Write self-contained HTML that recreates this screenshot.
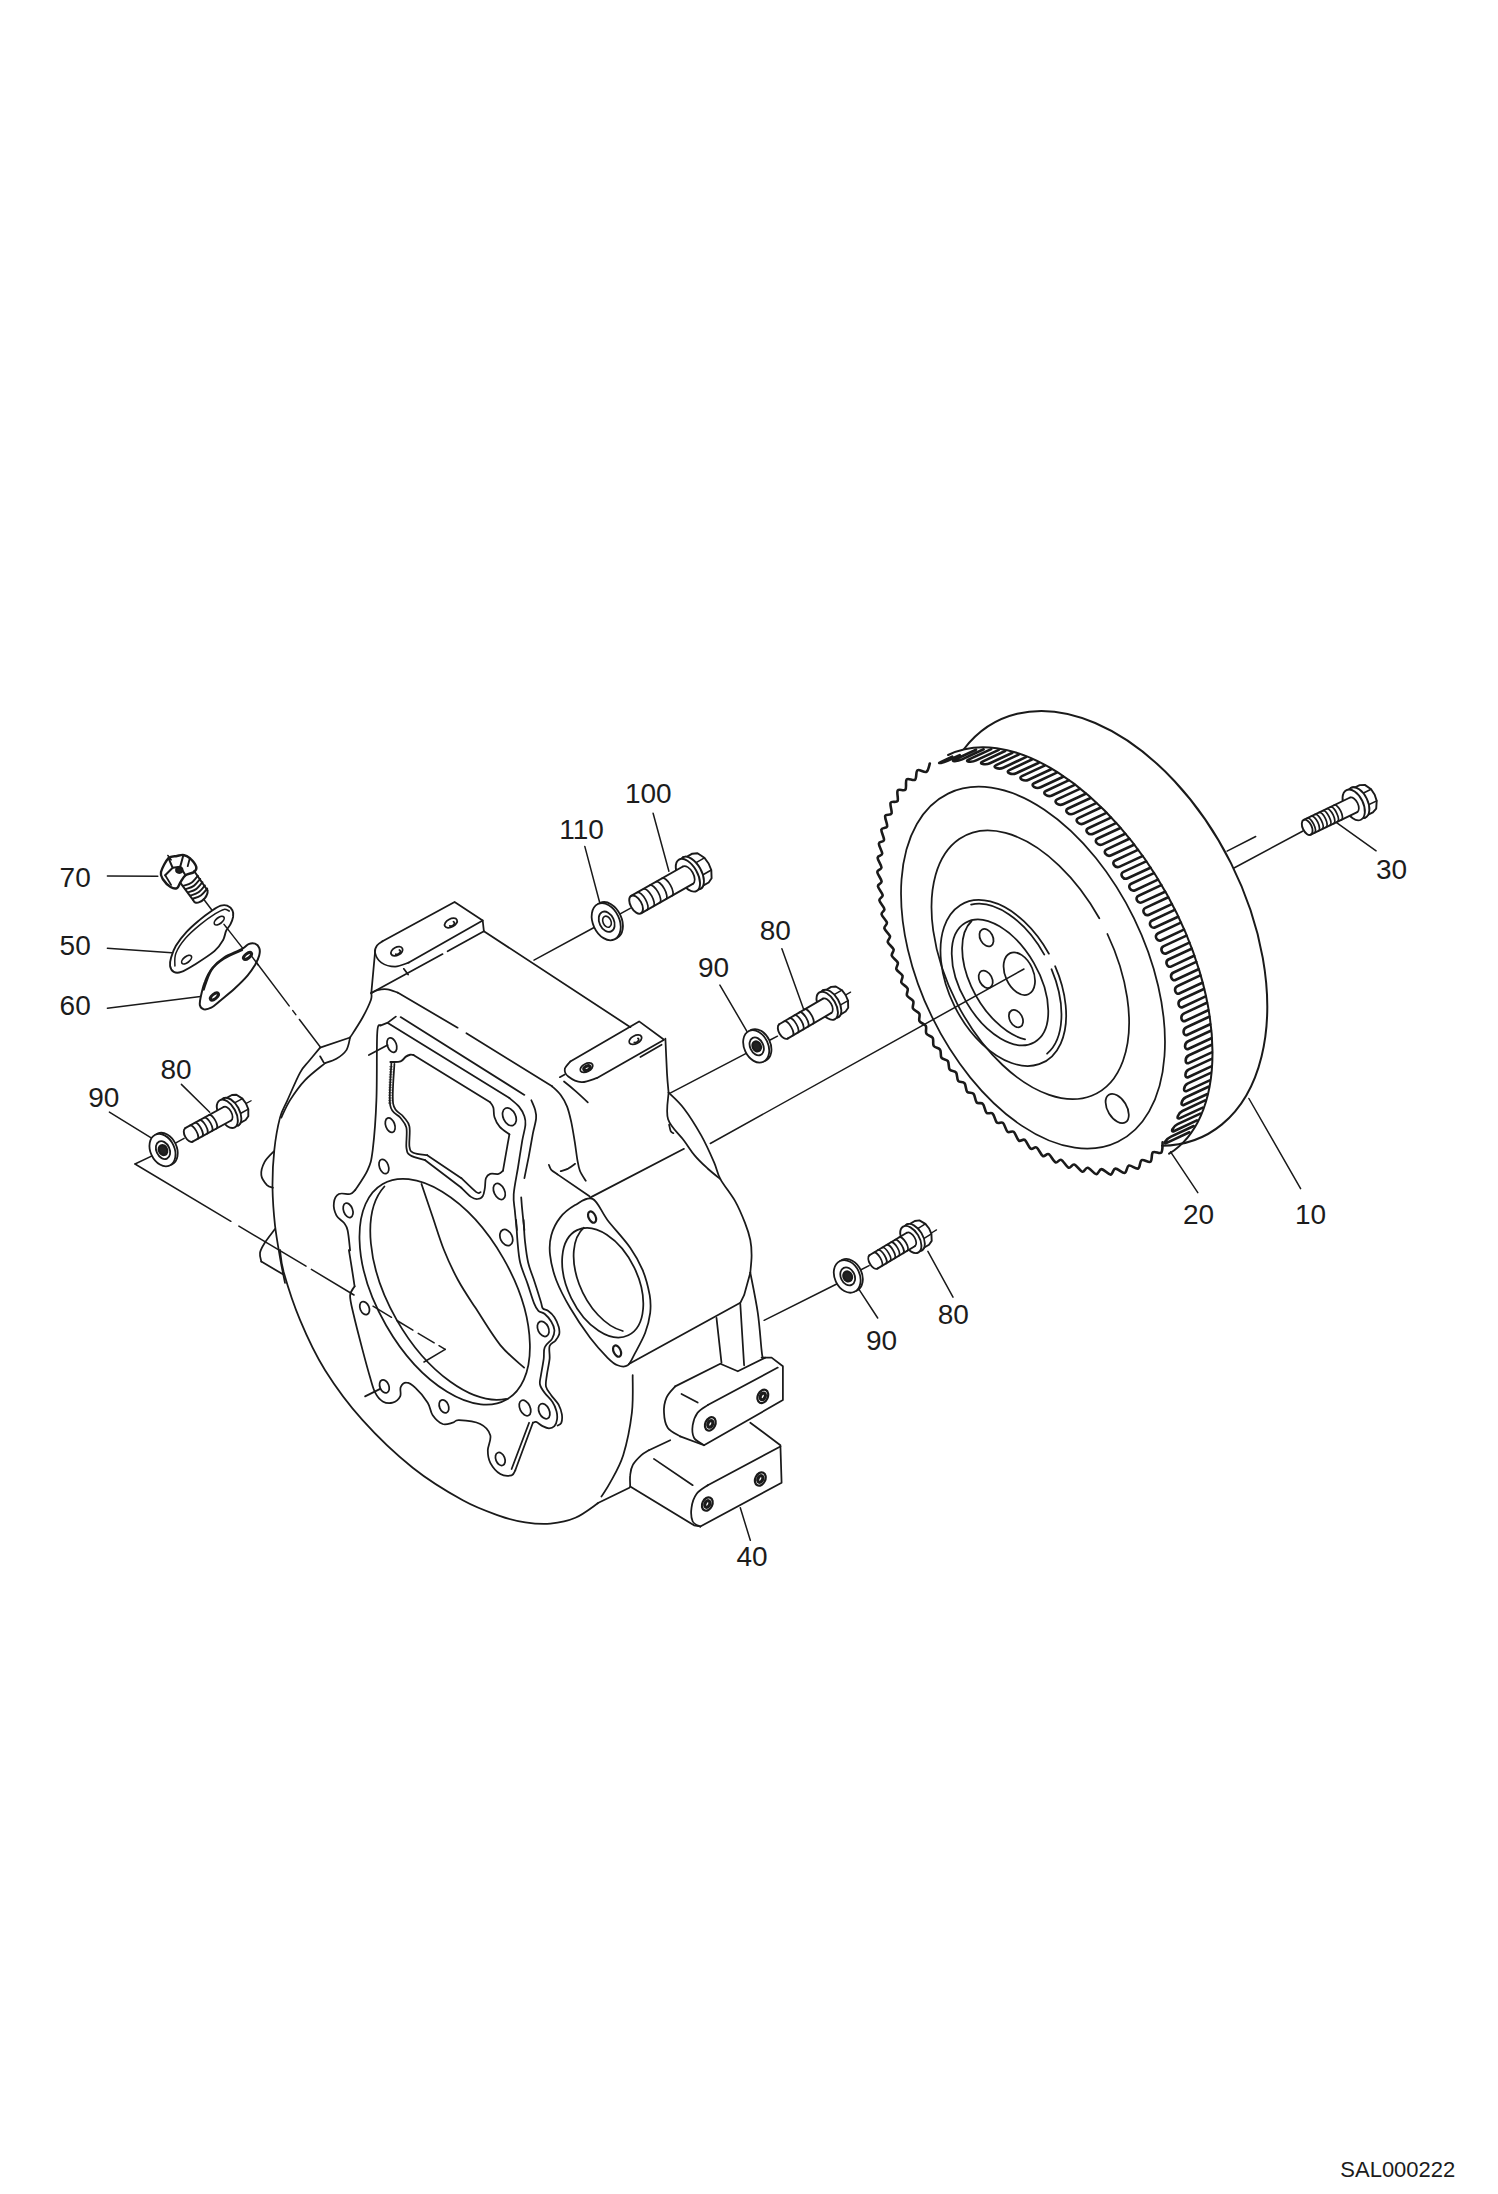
<!DOCTYPE html>
<html><head><meta charset="utf-8"><title>SAL000222</title>
<style>
html,body{margin:0;padding:0;background:#fff}
svg{display:block}
.d path,.d ellipse{fill:none;stroke:#1a1a1a;stroke-width:1.75;stroke-linecap:round;stroke-linejoin:round}
text{font-family:"Liberation Sans",Arial,sans-serif;fill:#1c1c1c}
</style></head><body>
<svg width="1498" height="2194" viewBox="0 0 1498 2194">
<rect width="1498" height="2194" fill="#fff"/>
<g class="d">
<path d="M964 749 A231.8 145.4 63.5 1 1 1161.9 1145.7" style="stroke-width:2.0"/>
<path d="M1162.6 1142.4 C1162.4 1144.1 1162.9 1150.9 1161.3 1152.6 C1159.7 1154.2 1154.7 1150.8 1152.9 1152.3 C1151.1 1153.9 1152.4 1160.4 1150.5 1161.7 C1148.6 1163 1143.7 1159 1141.6 1160.2 C1139.6 1161.3 1140.3 1167.6 1138.2 1168.5 C1136 1169.5 1131.2 1164.9 1128.9 1165.6 C1126.6 1166.4 1126.9 1172.4 1124.6 1172.9 C1122.4 1173.3 1117.7 1168.3 1115.3 1168.6 C1113 1168.9 1112.8 1174.5 1110.5 1174.6 C1108.2 1174.7 1103.9 1169.2 1101.5 1169.1 C1099.1 1169.1 1098.6 1174.4 1096.3 1174.1 C1094 1173.9 1090 1168.1 1087.7 1167.7 C1085.4 1167.3 1084.6 1172.2 1082.3 1171.7 C1080.1 1171.2 1076.6 1165.1 1074.3 1164.5 C1072 1163.8 1070.9 1168.4 1068.7 1167.7 C1066.5 1166.9 1063.4 1160.8 1061.2 1159.9 C1059 1159 1057.6 1163.3 1055.5 1162.3 C1053.4 1161.4 1050.8 1155.2 1048.7 1154.2 C1046.5 1153.1 1044.9 1157.1 1042.8 1156 C1040.8 1154.8 1038.6 1148.7 1036.6 1147.5 C1034.5 1146.3 1032.6 1149.9 1030.6 1148.6 C1028.7 1147.4 1026.8 1141.3 1024.8 1139.9 C1022.9 1138.6 1020.7 1141.9 1018.9 1140.6 C1017 1139.2 1015.6 1133.2 1013.7 1131.8 C1011.8 1130.3 1009.4 1133.3 1007.6 1131.8 C1005.8 1130.3 1004.8 1124.5 1003 1122.9 C1001.2 1121.4 998.6 1124.1 996.8 1122.5 C995.1 1121 994.5 1115.3 992.7 1113.7 C991 1112 988.2 1114.3 986.5 1112.7 C984.9 1111.1 984.5 1105.5 982.8 1103.8 C981.2 1102.1 978.2 1104.1 976.7 1102.5 C975.1 1100.8 975.1 1095.5 973.6 1093.8 C972 1092 968.7 1093.6 967.2 1091.8 C965.7 1090.1 966 1085 964.5 1083.2 C963 1081.3 959.7 1082.6 958.2 1080.8 C956.8 1079 957.4 1074.2 956 1072.4 C954.6 1070.5 951 1071.4 949.7 1069.5 C948.3 1067.6 949.2 1063.1 947.8 1061.1 C946.5 1059.2 942.8 1059.8 941.5 1057.8 C940.2 1055.9 941.4 1051.6 940.1 1049.7 C938.8 1047.7 934.9 1047.9 933.7 1045.9 C932.5 1043.9 933.9 1039.9 932.7 1037.9 C931.5 1035.8 927.5 1035.6 926.4 1033.6 C925.2 1031.6 926.9 1027.9 925.8 1025.8 C924.6 1023.7 920.5 1023.2 919.5 1021.2 C918.4 1019.2 920.4 1015.8 919.3 1013.6 C918.2 1011.5 914 1010.6 913 1008.5 C912 1006.4 914.2 1003.3 913.2 1001.1 C912.2 999 907.9 997.7 907 995.6 C906.1 993.5 908.5 990.7 907.6 988.5 C906.7 986.3 902.3 984.6 901.4 982.5 C900.6 980.3 903.3 977.8 902.4 975.6 C901.6 973.4 897.2 971.4 896.4 969.2 C895.6 967.1 898.5 964.9 897.8 962.7 C897 960.4 892.5 958 891.8 955.7 C891.1 953.5 894.2 951.6 893.6 949.4 C892.9 947.1 888.4 944.3 887.8 942.1 C887.2 939.9 890.5 938.5 890 936.2 C889.4 933.9 884.9 930.6 884.4 928.4 C883.9 926.1 887.3 924.9 886.9 922.6 C886.4 920.2 882 916.7 881.6 914.4 C881.1 912.1 884.8 911.3 884.4 909 C884.1 906.7 879.7 902.6 879.4 900.3 C879.1 898 882.9 897.6 882.7 895.2 C882.4 892.8 878.1 888.5 877.9 886.2 C877.8 883.9 881.7 883.8 881.6 881.4 C881.5 879.1 877.3 874.2 877.3 871.9 C877.3 869.6 881.4 869.9 881.5 867.5 C881.5 865.1 877.5 860 877.6 857.7 C877.7 855.4 882 856.1 882.2 853.7 C882.4 851.4 878.6 845.8 878.9 843.6 C879.2 841.3 883.6 842.4 884 840.1 C884.4 837.7 880.9 831.8 881.4 829.6 C881.9 827.3 886.4 828.8 887.1 826.5 C887.7 824.2 884.5 818.1 885.2 815.9 C885.9 813.7 890.6 815.7 891.5 813.5 C892.4 811.3 889.6 804.8 890.6 802.7 C891.6 800.7 896.4 803 897.6 801 C898.7 798.9 896.4 792.3 897.7 790.4 C899 788.5 903.9 791.4 905.4 789.6 C906.9 787.8 905.1 781.1 906.7 779.4 C908.3 777.8 913.3 781.2 915.1 779.7 C916.9 778.1 915.6 771.6 917.5 770.3 C919.4 769 924.3 773 926.4 771.8 C928.4 770.7 929.3 764.9 929.8 763.5" style="stroke-width:2.6"/>
<path d="M948.1 755 A228 127 61 0 1 1169.1 1153.7" style="stroke-width:2.0"/>
<path d="M952.2 756.7L940.6 762.1C936.1 764.2 943.5 762.6 948 760.5L959.7 755.1 M976 749.7L954.5 759.7C949.9 761.8 957.5 761.5 962.1 759.4L983.6 749.3 M991.2 749.1L968.5 759.6C964 761.7 971.6 762.6 976.1 760.4L998.8 749.9 M1005.1 751L982.5 761.6C978 763.7 985.3 765.4 989.9 763.3L1012.5 752.7 M1018.7 754.6L996.1 765.1C991.5 767.3 998.7 769.8 1003.3 767.7L1025.9 757.1 M1031.9 759.5L1009.3 770.1C1004.8 772.2 1011.6 775.3 1016.2 773.2L1038.8 762.7 M1044.6 765.6L1021.9 776.1C1017.4 778.3 1024 781.9 1028.6 779.8L1051.2 769.3 M1056.8 772.6L1034.1 783.2C1029.6 785.3 1036 789.4 1040.6 787.3L1063.2 776.7 M1068.6 780.4L1045.9 791C1041.4 793.1 1047.5 797.6 1052 795.5L1074.7 784.9 M1079.8 788.9L1057.2 799.4C1052.6 801.6 1058.5 806.4 1063.1 804.3L1085.7 793.7 M1090.6 798L1068 808.5C1063.4 810.7 1069 815.7 1073.6 813.6L1096.2 803.1 M1100.9 807.5L1078.3 818.1C1073.8 820.2 1079.2 825.6 1083.7 823.5L1106.4 812.9 M1110.9 817.6L1088.2 828.2C1083.7 830.3 1088.8 835.8 1093.3 833.7L1116 823.1 M1120.3 828L1097.6 838.5C1093.1 840.6 1098 846.5 1102.6 844.3L1125.2 833.8 M1129.3 838.8L1106.7 849.4C1102.1 851.5 1106.8 857.4 1111.3 855.3L1134 844.7 M1137.9 849.9L1115.2 860.5C1110.7 862.6 1115.2 868.7 1119.7 866.6L1142.4 856.1 M1146.1 861.4L1123.5 871.9C1118.9 874.1 1123.2 880.3 1127.7 878.2L1150.4 867.7 M1153.9 873.1L1131.2 883.7C1126.7 885.8 1130.8 892.3 1135.3 890.2L1157.9 879.6 M1161.3 885.1L1138.6 895.7C1134.1 897.8 1137.9 904.4 1142.4 902.2L1165.1 891.7 M1168.2 897.3L1145.5 907.9C1141 910 1144.6 916.8 1149.1 914.7L1171.8 904.1 M1174.7 909.9L1152.1 920.5C1147.6 922.6 1150.9 929.4 1155.4 927.3L1178.1 916.8 M1180.8 922.6L1158.2 933.2C1153.6 935.3 1156.7 942.3 1161.3 940.2L1183.9 929.6 M1186.4 935.6L1163.8 946.1C1159.3 948.2 1162.1 955.3 1166.6 953.2L1189.3 942.6 M1191.6 948.7L1168.9 959.3C1164.4 961.4 1167 968.5 1171.5 966.4L1194.1 955.8 M1196.2 961.9L1173.6 972.5C1169 974.6 1171.3 981.9 1175.9 979.8L1198.5 969.2 M1200.3 975.4L1177.7 986C1173.2 988.1 1175.1 995.4 1179.7 993.3L1202.3 982.7 M1203.9 989L1181.2 999.5C1176.7 1001.6 1178.4 1009.1 1182.9 1007L1205.6 996.4 M1206.9 1002.8L1184.2 1013.4C1179.7 1015.5 1181 1022.9 1185.6 1020.8L1208.2 1010.2 M1209.2 1016.7L1186.6 1027.2C1182 1029.3 1183 1036.9 1187.5 1034.8L1210.2 1024.2 M1210.8 1030.7L1188.2 1041.2C1183.7 1043.4 1184.2 1050.9 1188.7 1048.8L1211.4 1038.2 M1211.7 1044.7L1189 1055.3C1184.5 1057.4 1184.6 1065 1189.1 1062.9L1211.8 1052.4 M1211.7 1058.9L1189 1069.4C1184.5 1071.5 1184.1 1079.1 1188.6 1077L1211.3 1066.4 M1210.7 1072.9L1188 1083.4C1183.5 1085.5 1182.5 1093 1187 1090.9L1209.7 1080.4 M1208.5 1086.7L1185.9 1097.3C1181.4 1099.4 1179.7 1106.8 1184.2 1104.7L1206.9 1094.2 M1205.1 1100.4L1182.5 1111C1177.9 1113.1 1175.5 1120.3 1180 1118.1L1202.7 1107.6 M1200.3 1113.6L1177.6 1124.1C1173.1 1126.3 1169.7 1133.1 1174.3 1131L1196.9 1120.4 M1193.7 1126L1171 1136.6C1166.5 1138.7 1162.2 1145 1166.7 1142.9L1189.4 1132.3" style="stroke-width:2.6"/>
<ellipse cx="1033" cy="967.7" rx="193.7" ry="112.4" transform="rotate(64 1033 967.7)"/>
<path d="M1107.4 934 A144.7 82.8 63 1 1 1099.3 918.3"/>
<path d="M1055.1 966.2 A89 54 63 1 1 1048.9 953.7"/>
<path d="M971.1 904.6 A84.5 49.5 63 0 1 1044.3 954.6"/>
<path d="M1051.5 969.2 A84.5 49.5 63 0 1 1047.1 1053.7"/>
<ellipse cx="1000" cy="982.4" rx="69" ry="39" transform="rotate(60 1000 982.4)"/>
<path d="M1025.1 1039.4 A69 39 60 0 1 971.6 921"/>
<ellipse cx="1019.3" cy="973.7" rx="22.5" ry="14" transform="rotate(66 1019.3 973.7)"/>
<ellipse cx="986.5" cy="937.7" rx="9.3" ry="6.3" transform="rotate(62 986.5 937.7)"/>
<ellipse cx="985.7" cy="979.3" rx="9.3" ry="6.3" transform="rotate(62 985.7 979.3)"/>
<ellipse cx="1016" cy="1018.6" rx="9.3" ry="6.3" transform="rotate(62 1016 1018.6)"/>
<ellipse cx="1117.2" cy="1108.5" rx="16" ry="9.5" transform="rotate(58.6 1117.2 1108.5)"/>
<path d="M482.7 920.5 L408.8 962.6"/>
<path d="M408.8 962.6 C406.5 963.3 399.6 966.6 395.1 966.6 C390.5 966.6 384.6 964.9 381.3 962.6 C378 960.3 375.7 955.4 375 952.6 C374.3 949.7 375.8 947.4 377 945.6 C378.3 943.7 381.6 942 382.5 941.3"/>
<path d="M382.5 941.3 L454.6 902 L482.7 920.5 L483.9 931.3"/>
<path d="M483.9 931.3 L447.6 951.3"/>
<path d="M442.6 954.1 L371.3 993.1"/>
<path d="M403.8 968.8 L408.1 974.6"/>
<path d="M375 952.6 L371.3 993.1"/>
<ellipse cx="396.8" cy="951.3" rx="6.3" ry="4" transform="rotate(-28 396.8 951.3)"/>
<ellipse cx="450.9" cy="923" rx="6.8" ry="4" transform="rotate(-28 450.9 923)"/>
<path d="M399.4 950 A3 2 -28 0 1 395.7 954.2"/>
<path d="M453.5 921.7 A3 2 -28 0 1 449.8 925.9"/>
<path d="M483.9 931.3 L630.4 1027.2"/>
<path d="M570.3 1061.5 L639.1 1021.4 L664.1 1039.7 L596.6 1078.2"/>
<path d="M596.6 1078.2 C594.1 1078.9 586.3 1082.5 581.5 1082.2 C576.8 1081.9 571.1 1078.7 568.3 1076.5 C565.5 1074.3 564.4 1071.5 564.8 1069 C565.1 1066.5 569.4 1062.7 570.3 1061.5"/>
<path d="M665.4 1038.7 C665.7 1044.5 666.5 1064.4 667 1073.4 C667.5 1082.4 668.3 1089.4 668.6 1092.6"/>
<path d="M661.6 1044.7 L640.4 1057"/>
<ellipse cx="586.5" cy="1067.7" rx="6.8" ry="4" transform="rotate(-28 586.5 1067.7)"/>
<ellipse cx="635.4" cy="1039.7" rx="6.8" ry="4" transform="rotate(-28 635.4 1039.7)"/>
<ellipse cx="587" cy="1068.2" rx="3.5" ry="2" transform="rotate(-28 587 1068.2)" style="stroke-width:3"/>
<path d="M637.9 1038.3 A3 2 -28 0 1 634.3 1042.5"/>
<path d="M559.8 1077.2 L564.8 1074.5"/>
<path d="M564 1081.5 C565.9 1083 571.3 1087.3 575.3 1090.8 C579.2 1094.2 585.7 1100.3 587.8 1102.3"/>
<path d="M371.3 993.1 C372.3 992.6 374.8 990.8 377.5 990.1 C380.2 989.5 384.2 989 387.5 989.4 C390.9 989.8 395.9 992.1 397.6 992.6"/>
<path d="M397.6 992.6 L457.6 1027.7"/>
<path d="M466.4 1033.2 L552.1 1086.3"/>
<path d="M552.1 1086.3 C553.6 1087.7 558.2 1091.5 560.7 1094.9 C563.2 1098.2 565.3 1102 567.1 1106.6 C568.9 1111.2 570.1 1116.9 571.4 1122.6 C572.6 1128.3 573.6 1134.7 574.6 1140.8 C575.6 1146.8 576.4 1154 577.2 1158.9 C578.1 1163.9 578.5 1167 579.9 1170.7 C581.3 1174.3 584.8 1179.1 585.8 1180.8"/>
<path d="M371.3 993.1 C371.2 994.2 372.3 995.9 370.9 1000 C369.4 1004.1 366.1 1011.2 362.6 1017.5 C359.1 1023.8 352.2 1034.2 350.1 1037.5"/>
<path d="M350.1 1037.5 L320.1 1047.6"/>
<path d="M350.1 1037.5 C349.5 1039.6 348.7 1046.5 346.4 1050.1 C344.1 1053.6 339.9 1056.7 336.4 1058.8 C332.8 1061 327 1062.4 325.1 1063.1"/>
<path d="M320.1 1056.3 L323.8 1062.6"/>
<path d="M320.1 1047.6 C318.2 1049.9 312.2 1057.2 308.8 1061.3 C305.5 1065.5 303.6 1066.1 300.1 1072.6 C296.5 1079.1 290.9 1092.6 287.5 1100.1 C284.2 1107.6 282.2 1109.3 280 1117.6 C277.8 1126 275.5 1138.5 274.3 1150.2 C273 1161.9 272.4 1175.2 272.5 1187.7 C272.7 1200.3 273.7 1213.2 275 1225.3 C276.4 1237.4 278.9 1250.7 280.5 1260.3 C282.2 1269.9 284.3 1279.1 285 1282.9"/>
<path d="M325.1 1063.1 C321.8 1065.9 310.9 1073.9 305.1 1080.1 C299.2 1086.3 294 1093.9 290.1 1100.1 C286.1 1106.4 282.7 1114.7 281.3 1117.6"/>
<path d="M273.8 1151.4 C272.2 1153.2 266.6 1158.2 264.5 1162.2 C262.4 1166.2 260.8 1171.4 261.3 1175.2 C261.7 1179.1 265.1 1183.1 267 1185.2 C269 1187.3 272 1187.3 273 1187.7"/>
<path d="M275 1229 C273.3 1231.4 267 1239.3 264.5 1243.3 C262 1247.3 260.6 1249.8 260 1252.8 C259.5 1255.9 261.1 1260.1 261.3 1261.6"/>
<path d="M261.3 1261.6 L283.8 1274.8"/>
<path d="M280 1250 C280.7 1253.8 280.5 1260.8 283.8 1272.5 C287.1 1284.2 293.2 1303.8 300.1 1320.1 C306.9 1336.4 314.7 1353.5 325.1 1370.2 C335.5 1386.8 348 1403.9 362.6 1420.2 C377.2 1436.5 396 1454.4 412.7 1467.8 C429.4 1481.1 448.2 1492.3 462.8 1500.3 C477.4 1508.4 489.9 1512.4 500.3 1516.1 C510.7 1519.8 517 1521.1 525.3 1522.3 C533.7 1523.6 542 1524.3 550.4 1523.6 C558.7 1522.8 567.5 1521.2 575.4 1517.8 C583.3 1514.5 594.2 1505.7 597.9 1503.3"/>
<path d="M597.5 1503.3 L629.4 1487.7"/>
<path d="M632.7 1375.1 C632.5 1381.4 633.5 1399.3 631.9 1412.6 C630.3 1426 626.8 1443.5 623.2 1455.2 C619.5 1466.9 613.8 1475.8 610.1 1482.7 C606.5 1489.6 602.8 1494.2 601.4 1496.5"/>
<path d="M380.2 1025 C379.7 1026.5 377.8 1021.3 377.2 1033.8 C376.5 1046.3 377.2 1080.7 376.4 1100.1 C375.7 1119.5 374.1 1138.5 372.7 1150.2 C371.2 1161.9 370.6 1163.5 367.6 1170.2 C364.7 1176.9 357.2 1186.9 355.1 1190.2"/>
<path d="M355.1 1190.2 C354.3 1190.9 352.8 1193.4 350.1 1194 C347.4 1194.6 341.6 1192.5 338.9 1194 C336.1 1195.5 334.3 1199.2 333.9 1202.8 C333.4 1206.3 334.7 1211.9 336.4 1215.3 C338 1218.6 342 1220.3 343.9 1222.8 C345.7 1225.3 346.6 1225.7 347.6 1230.3 C348.7 1234.9 349.7 1247 350.1 1250.3"/>
<path d="M348.9 1250 C349.4 1253.3 351.2 1264 352.1 1270 C353.1 1276.1 354.2 1283.6 354.6 1286.3"/>
<path d="M354.6 1286.3 C353.9 1287.8 350.3 1291 350.1 1295.6 C349.9 1300.1 351.3 1304.7 353.4 1313.8 C355.5 1322.9 359.8 1339.5 362.6 1350.1 C365.4 1360.8 368.1 1370.6 370.2 1377.7 C372.2 1384.8 373.1 1388.7 375.2 1392.7 C377.2 1396.6 379.7 1399.8 382.7 1401.4 C385.6 1403.1 389.8 1403.5 392.7 1402.7 C395.6 1401.9 398.9 1399 400.2 1396.4 C401.5 1393.8 399.6 1389.5 400.7 1387.2 C401.7 1384.9 404 1382.6 406.4 1382.7 C408.9 1382.7 411.7 1384.3 415.2 1387.7 C418.8 1391 424.8 1398.1 427.7 1402.7 C430.6 1407.3 430.2 1411.7 432.7 1415.2 C435.2 1418.8 439.4 1422.7 442.7 1424 C446.1 1425.2 450 1423.3 452.8 1422.7 C455.5 1422.1 454.4 1420 459 1420.2 C463.6 1420.4 475.1 1421.5 480.3 1424 C485.5 1426.5 489 1430.9 490.3 1435.2 C491.6 1439.6 487.8 1445.7 487.8 1450.3 C487.8 1454.8 488.2 1458.8 490.3 1462.8 C492.4 1466.7 496.8 1471.9 500.3 1474 C503.9 1476.1 509.1 1475.9 511.6 1475.3 C514.1 1474.7 514.7 1471.1 515.3 1470.3"/>
<path d="M515.3 1470.3 L532.9 1422.7"/>
<path d="M511.6 1469 L529.1 1422.7"/>
<path d="M516.1 1220 C516.4 1223.6 516.9 1234.2 517.5 1241.4 C518.2 1248.5 518.5 1255.6 520.2 1262.7 C521.9 1269.8 525.4 1277.3 527.7 1284.1 C530 1290.9 532.3 1298.9 534.1 1303.3 C535.9 1307.8 536.6 1309 538.4 1310.8 C540.1 1312.6 542.6 1312.2 544.8 1314 C546.9 1315.8 549.6 1318.8 551.2 1321.5 C552.8 1324.1 554.2 1327.2 554.4 1330 C554.6 1332.9 553.8 1335.7 552.2 1338.6 C550.6 1341.4 546.2 1343.7 544.8 1347.1 C543.3 1350.5 544.3 1354.2 543.7 1358.9 C543.1 1363.5 541.7 1370.6 541 1374.9 C540.4 1379.1 539.3 1381.5 540 1384.5 C540.6 1387.5 542.7 1390.2 544.8 1393 C546.8 1395.9 550.3 1398.5 552.2 1401.6 C554.2 1404.6 555.7 1408.2 556.5 1411.2 C557.3 1414.2 557.4 1417.2 557 1419.7 C556.7 1422.2 555.7 1424.7 554.4 1426.1 C553 1427.6 551 1428.3 549 1428.3 C547.1 1428.3 544.8 1427.2 542.6 1426.1 C540.5 1425.1 537.8 1422.4 536.2 1421.9 C534.6 1421.3 533.5 1422.6 532.9 1422.7"/>
<path d="M523.6 1220 C523.8 1223.6 524.2 1234.2 525 1241.4 C525.8 1248.5 526.6 1256 528.2 1262.7 C529.8 1269.5 532.5 1275.5 534.6 1281.9 C536.7 1288.4 539.3 1296.8 540.7 1301.2 C542.1 1305.6 541.6 1306.8 542.8 1308.4 C544.1 1310 546 1309.3 548 1310.8 C549.9 1312.2 552.6 1314.5 554.4 1317.2 C556.2 1319.9 557.9 1324 558.7 1326.8 C559.5 1329.7 559.7 1332 559.2 1334.3 C558.7 1336.6 557 1338.7 555.4 1340.7 C553.8 1342.7 550.6 1343 549.6 1346 C548.6 1349.1 550 1354 549.6 1358.9 C549.1 1363.7 547.5 1370.2 546.9 1374.9 C546.3 1379.5 545.3 1383.2 546 1386.6 C546.8 1390 549.1 1392.1 551.2 1395.2 C553.3 1398.2 556.9 1401.6 558.7 1404.8 C560.4 1408 561.4 1411.4 561.9 1414.4 C562.3 1417.4 562 1421.1 561.3 1422.9 C560.6 1424.8 558.2 1425.2 557.6 1425.6"/>
<path d="M380.3 1025.6 L387.8 1022.6 L395.8 1016.6"/>
<path d="M387.8 1023 L509.4 1098.1"/>
<path d="M509.4 1098.1 C511 1099.5 516.5 1103.6 519 1106.6 C521.5 1109.6 523.3 1113.2 524.4 1116.2 C525.4 1119.2 525.8 1120.7 525.4 1124.8 C525.1 1128.9 523.5 1133.7 522.2 1140.8 C521 1147.9 519.4 1158.6 518 1167.5 C516.5 1176.4 514.2 1187.1 513.7 1194.2 C513.2 1201.3 514.2 1204.3 514.8 1210.2 C515.3 1216.2 516.5 1226.7 516.9 1230"/>
<path d="M400.6 1017.1 L524.4 1094.9"/>
<path d="M531.3 1100.2 C531.9 1101.8 534.3 1106.8 535.1 1109.8 C535.9 1112.8 536.5 1114.4 536.1 1118.4 C535.8 1122.3 534.2 1126.9 532.9 1133.3 C531.7 1139.7 530.1 1149.3 528.7 1156.8 C527.2 1164.3 525.1 1174.6 524.4 1178.2"/>
<path d="M521.2 1197.4 C521.4 1200.4 522.2 1210.1 522.8 1215.6 C523.3 1221 524.1 1227.6 524.4 1230"/>
<path d="M413.4 1055 L490.2 1102.3"/>
<path d="M390.4 1061.9 C392.1 1061.9 398 1062.3 400.6 1061.4 C403.2 1060.5 404.3 1057.7 405.9 1056.6 C407.5 1055.5 409 1055 410.2 1054.7 C411.4 1054.4 412.9 1055 413.4 1055" style="stroke-width:2.0"/>
<path d="M490.2 1102.3 C490.7 1103.2 492.7 1105.2 493.4 1107.7 C494.1 1110.2 493.4 1114.1 494.5 1117.3 C495.5 1120.5 497.3 1124.1 499.8 1126.9 C502.3 1129.8 507.8 1133.1 509.4 1134.4"/>
<path d="M509.4 1134.4 C509.1 1136.3 508.4 1140.1 507.3 1146.1 C506.2 1152.2 503.7 1166.6 503 1170.7"/>
<path d="M503 1170.7 C502.3 1171.2 500.9 1173.4 498.7 1173.9 C496.6 1174.4 492.3 1173.2 490.2 1173.9 C488.1 1174.6 486.8 1175.9 485.9 1178.2 C485 1180.5 485.4 1184.8 484.9 1187.8 C484.3 1190.8 484 1194.5 482.7 1196.3 C481.5 1198.2 479.3 1198.9 477.4 1199 C475.4 1199.1 473.6 1198.7 471 1196.9 C468.3 1195 463 1189.3 461.4 1187.8"/>
<path d="M461.4 1187.8 L425.2 1160.2"/>
<path d="M480.6 1192.1 C479.9 1192.1 479.5 1194.4 476.3 1192.1 C473.1 1189.7 463.9 1180.5 461.4 1178.2"/>
<path d="M461.4 1178.2 L427.2 1155.2"/>
<path d="M391 1066L389.8 1104" style="stroke:#8a8a8a;stroke-width:3.6;stroke-dasharray:1.4 1.2;stroke-linecap:butt"/>
<path d="M391.4 1062.6 C391.2 1069.7 388.7 1096 390.2 1105.1 C391.6 1114.3 397.5 1113.9 400.2 1117.6 C402.9 1121.4 405.4 1122.7 406.4 1127.7 C407.5 1132.7 405.8 1143.1 406.4 1147.7 C407.1 1152.3 407.1 1153.1 410.2 1155.2 C413.3 1157.3 422.7 1159.4 425.2 1160.2"/>
<path d="M394.4 1063.8 C394.2 1070.5 391.7 1095.1 393.2 1103.9 C394.6 1112.6 400.5 1112.6 403.2 1116.4 C405.9 1120.2 408.4 1121.4 409.4 1126.4 C410.5 1131.4 408.8 1142.1 409.4 1146.4 C410.1 1150.8 410.2 1151.2 413.2 1152.7 C416.2 1154.2 424.9 1154.8 427.2 1155.2"/>
<ellipse cx="499.3" cy="1191.5" rx="5.3" ry="8.5" transform="rotate(-25 499.3 1191.5)"/>
<ellipse cx="506.3" cy="1237.6" rx="5.9" ry="8.5" transform="rotate(-25 506.3 1237.6)"/>
<ellipse cx="543.2" cy="1328.9" rx="5.3" ry="8" transform="rotate(-25 543.2 1328.9)"/>
<ellipse cx="525" cy="1408" rx="5.1" ry="8.3" transform="rotate(-25 525 1408)"/>
<ellipse cx="544.2" cy="1411.2" rx="5.1" ry="8" transform="rotate(-25 544.2 1411.2)"/>
<ellipse cx="391.9" cy="1045.1" rx="4.5" ry="7.5" transform="rotate(-20 391.9 1045.1)"/>
<ellipse cx="390.2" cy="1125.2" rx="4.5" ry="7.5" transform="rotate(-20 390.2 1125.2)"/>
<ellipse cx="383.9" cy="1166.5" rx="4.5" ry="7.5" transform="rotate(-20 383.9 1166.5)"/>
<ellipse cx="348.1" cy="1210.3" rx="4.5" ry="7.5" transform="rotate(-20 348.1 1210.3)"/>
<ellipse cx="509.4" cy="1116.8" rx="6.2" ry="9.4" transform="rotate(-25 509.4 1116.8)"/>
<ellipse cx="364.6" cy="1308.1" rx="4.5" ry="6.8" transform="rotate(-22 364.6 1308.1)"/>
<ellipse cx="384.4" cy="1386.4" rx="4.5" ry="6.8" transform="rotate(-22 384.4 1386.4)"/>
<ellipse cx="444" cy="1406.4" rx="4.5" ry="6.8" transform="rotate(-22 444 1406.4)"/>
<ellipse cx="500.3" cy="1459" rx="4.5" ry="6.8" transform="rotate(-22 500.3 1459)"/>
<path d="M368.9 1055.1 L387.7 1045.1"/>
<path d="M365.1 1396.4 L380.2 1388.9"/>
<ellipse cx="444.7" cy="1291.8" rx="124.3" ry="67.5" transform="rotate(60.1 444.7 1291.8)"/>
<path d="M506.3 1398.8 A124.3 67.5 60.1 0 1 384.4 1186.5"/>
<path d="M421.5 1184 C423.2 1189.2 428.2 1204 432 1215 C435.8 1226 439.7 1239.2 444 1250 C448.3 1260.8 452.8 1270.4 458 1280 C463.2 1289.6 468.2 1296.8 475.3 1307.6 C482.4 1318.4 492.2 1335.1 500.3 1345.1 C508.4 1355.1 520.1 1363.8 524.1 1367.6"/>
<path d="M592.6 1198.9 C587.2 1196.4 580.5 1202 575.1 1205.1 C569.7 1208.3 564 1212.6 560.1 1217.6 C556.1 1222.7 553 1228.9 551.3 1235.2 C549.6 1241.4 549.2 1247.7 550.1 1255.2 C550.9 1262.7 553 1271.5 556.3 1280.2 C559.7 1289 564.5 1298.2 570.1 1307.8 C575.7 1317.4 583.9 1329.5 590.1 1337.8 C596.4 1346.1 603 1353.2 607.6 1357.8 C612.2 1362.4 614.3 1364.1 617.6 1365.3 C621 1366.6 624.7 1367.4 627.7 1365.3 C630.6 1363.2 632.2 1358.2 635.2 1352.8 C638.1 1347.4 642.7 1339.5 645.2 1332.8 C647.7 1326.1 649.4 1319 650.2 1312.8 C650.9 1306.5 650.9 1302.3 649.7 1295.2 C648.4 1288.2 645.9 1278.1 642.7 1270.2 C639.4 1262.3 636 1256 630.2 1247.7 C624.3 1239.3 613.9 1228.3 607.6 1220.2 C601.4 1212 598 1201.4 592.6 1198.9Z"/>
<ellipse cx="602.7" cy="1282.7" rx="58.5" ry="35" transform="rotate(64 602.7 1282.7)"/>
<path d="M622.8 1331 A58.5 35 64 0 1 583.9 1227.7"/>
<ellipse cx="592.1" cy="1217.1" rx="3.5" ry="6" transform="rotate(-25 592.1 1217.1)" style="stroke-width:2.2"/>
<ellipse cx="617.1" cy="1351.1" rx="3.5" ry="6" transform="rotate(-25 617.1 1351.1)" style="stroke-width:2.2"/>
<path d="M590.1 1197.6 L684 1148.8"/>
<path d="M628.9 1364.1 L740.3 1302.8"/>
<path d="M668.6 1092.6 C671.2 1095.3 678.7 1101.6 684.1 1108.7 C689.5 1115.8 696.2 1126.5 701.2 1135.4 C706.2 1144.3 710.8 1154.8 714 1162.1 C717.2 1169.4 716.8 1172.5 720.4 1179.1 C724 1185.7 731.3 1194.3 735.4 1201.6 C739.5 1208.9 742.5 1216.5 745 1222.9 C747.5 1229.3 749.2 1234.6 750.3 1240 C751.4 1245.4 751.6 1249.8 751.6 1255.2 C751.6 1260.7 750.5 1269.8 750.3 1272.7"/>
<path d="M668.6 1092.6 C668.5 1097.1 665.5 1111.3 668.1 1119.3 C670.6 1127.3 679.6 1134.6 684.1 1140.7 C688.5 1146.7 690.9 1151 694.8 1155.6 C698.7 1160.3 703.3 1164.5 707.6 1168.5 C711.9 1172.4 718.3 1177.4 720.4 1179.1"/>
<path d="M669.1 1124.7 C669.4 1125.7 670 1129.7 670.7 1131.1 C671.4 1132.5 673 1132.9 673.4 1133.2"/>
<path d="M750.3 1272.7 L744.1 1295.2 L740.3 1302.8"/>
<path d="M750.3 1272.7 C751.6 1279.4 755.9 1299.8 757.8 1312.8 C759.7 1325.7 760.7 1342.8 761.6 1350.3 C762.4 1357.8 762.6 1356.6 762.8 1357.8"/>
<path d="M548.9 1164.8 C549.3 1165.6 549.7 1168 551.1 1169.6 C552.5 1171.2 556.4 1173.6 557.5 1174.4"/>
<path d="M557.5 1174.4 L589.5 1196.3"/>
<path d="M560.7 1171.2 C561.9 1170.8 565.8 1169.8 568.2 1168.6 C570.6 1167.3 574 1164.6 575.1 1163.8"/>
<path d="M716.5 1317.8 L721.5 1362.8"/>
<path d="M740.3 1304 L744.1 1365.3"/>
<path d="M675.2 1386.4 L720.3 1363.8 L737.8 1371.3 L765.3 1357.6"/>
<path d="M761.6 1357.6 L771.6 1357.6 L782.9 1366.3 L782.9 1400.1 L704 1445.2"/>
<path d="M707.8 1405.1 L777.8 1367.6"/>
<path d="M707.8 1405.1 C706.1 1406.4 700.3 1409.3 697.7 1412.6 C695.2 1416 693.4 1421 692.7 1425.2 C692.1 1429.3 692.1 1434.3 694 1437.7 C695.9 1441 702.3 1443.9 704 1445.2"/>
<path d="M675.2 1386.4 C673.8 1388.2 668.3 1393.2 666.5 1397.6 C664.6 1402 663.7 1407.6 664 1412.6 C664.2 1417.6 665 1423.7 667.7 1427.7 C670.4 1431.6 678.1 1435 680.2 1436.4"/>
<path d="M680.2 1436.4 L704 1445.2"/>
<path d="M681.5 1393.9 L697.7 1402.6"/>
<path d="M648.9 1450.2 L670.2 1440.2"/>
<path d="M648.9 1450.2 C647.7 1451 644.1 1452.7 641.4 1455.2 C638.7 1457.7 634.5 1461.9 632.7 1465.2 C630.8 1468.5 630.6 1471.7 630.2 1475.2 C629.7 1478.8 630.2 1484.6 630.2 1486.5"/>
<path d="M750.3 1422.7 L780.4 1445.2 L781.6 1482.7 L700.3 1526.5"/>
<path d="M707.8 1485.2 L780.4 1446.4"/>
<path d="M707.8 1485.2 C705.9 1486.7 699.2 1490.2 696.5 1494 C693.8 1497.7 692.1 1503.2 691.5 1507.8 C690.9 1512.3 691.3 1518.4 692.7 1521.5 C694.2 1524.7 699 1525.7 700.3 1526.5"/>
<path d="M630.2 1486.5 L694 1525.3 L700.3 1526.5"/>
<path d="M653.9 1458.9 L692.7 1485.2"/>
<ellipse cx="710.3" cy="1423.9" rx="5" ry="7" transform="rotate(25 710.3 1423.9)" style="stroke-width:2.2"/>
<ellipse cx="710.3" cy="1423.9" rx="2.3" ry="3.5" transform="rotate(25 710.3 1423.9)" style="stroke-width:3.2"/>
<ellipse cx="762.8" cy="1396.4" rx="5" ry="7" transform="rotate(25 762.8 1396.4)" style="stroke-width:2.2"/>
<ellipse cx="762.8" cy="1396.4" rx="2.3" ry="3.5" transform="rotate(25 762.8 1396.4)" style="stroke-width:3.2"/>
<ellipse cx="707.3" cy="1504" rx="5" ry="7" transform="rotate(25 707.3 1504)" style="stroke-width:2.2"/>
<ellipse cx="707.3" cy="1504" rx="2.3" ry="3.5" transform="rotate(25 707.3 1504)" style="stroke-width:3.2"/>
<ellipse cx="760.3" cy="1479" rx="5" ry="7" transform="rotate(25 760.3 1479)" style="stroke-width:2.2"/>
<ellipse cx="760.3" cy="1479" rx="2.3" ry="3.5" transform="rotate(25 760.3 1479)" style="stroke-width:3.2"/>
<path d="M710.3 1143.5 L1024 969" style="stroke-width:1.5"/>
<path d="M1234 868 L1303 831" style="stroke-width:1.5"/>
<path d="M1227.1 851.2 L1255.7 836.5" style="stroke-width:1.5"/>
<path d="M534 960.1 L594.1 927.5" style="stroke-width:1.5"/>
<path d="M620.6 913.7 L630.2 908.4" style="stroke-width:1.5"/>
<path d="M670.6 1092.9 L746.7 1053.2" style="stroke-width:1.5"/>
<path d="M770.1 1040 L777.5 1036.2" style="stroke-width:1.5"/>
<path d="M764.1 1320.3 L836.7 1284" style="stroke-width:1.5"/>
<path d="M859.5 1270.5 L869.1 1265.7" style="stroke-width:1.5"/>
<path d="M174.5 1143.7 L184.1 1138.4" style="stroke-width:1.5"/>
<path d="M135 1164 L155.2 1154.4" style="stroke-width:1.5"/>
<path d="M135 1164 L230.9 1221.3" style="stroke-width:1.5"/>
<path d="M238.9 1226.1 L306 1266.2" style="stroke-width:1.5"/>
<path d="M311.4 1269.4 L354 1295" style="stroke-width:1.5"/>
<path d="M373 1306.2 L391.5 1317.3" style="stroke-width:1.5"/>
<path d="M396.9 1320.5 L412.9 1330.1" style="stroke-width:1.5"/>
<path d="M418.2 1333.3 L434.2 1342.8" style="stroke-width:1.5"/>
<path d="M439 1345.7 L445.2 1349.4" style="stroke-width:1.5"/>
<path d="M445.2 1349.4 L424 1362" style="stroke-width:1.5"/>
<path d="M203.7 899.3 L212.2 910.5" style="stroke-width:1.5"/>
<path d="M224 924.4 L243.2 948.9" style="stroke-width:1.5"/>
<path d="M251.8 956.4L320.1 1046.8" stroke-dasharray="62 6 5 6" style="stroke-width:1.5"/>
<path d="M107.4 876.1 L157.8 876.3" style="stroke-width:1.5"/>
<path d="M107.4 948.2 L171.7 952.7" style="stroke-width:1.5"/>
<path d="M107.4 1008.2 L200.5 996.5" style="stroke-width:1.5"/>
<path d="M109.4 1112.1 L152 1138.4" style="stroke-width:1.5"/>
<path d="M181.4 1084.4 L209.7 1112.2" style="stroke-width:1.5"/>
<path d="M584.8 846.4 L599.8 903" style="stroke-width:1.5"/>
<path d="M653.1 813.3 L668.9 871.2" style="stroke-width:1.5"/>
<path d="M781.9 948.8 L803.7 1009.5" style="stroke-width:1.5"/>
<path d="M719.9 985.1 L747.8 1032.8" style="stroke-width:1.5"/>
<path d="M1335.5 821.9 L1376.1 850.8" style="stroke-width:1.5"/>
<path d="M927.9 1251.3 L953 1297.2" style="stroke-width:1.5"/>
<path d="M858.5 1288.7 L877.7 1318" style="stroke-width:1.5"/>
<path d="M740.3 1507.8 L750.3 1540.3" style="stroke-width:1.5"/>
<path d="M1170.6 1151.8 L1197.8 1192.6" style="stroke-width:1.5"/>
<path d="M1248.9 1098.5 L1300.6 1188.7" style="stroke-width:1.5"/>
<path d="M223.4 1098.3 A15.5 8.5 61.2 0 1 238.3 1125.4" style="stroke-width:1.9"/>
<path d="M224 1099.4 L231.9 1095 L236.4 1094.7 L242.4 1098.6 L246 1103.5 L248.3 1109.2 L248.3 1116.3 L245.6 1120 L237.7 1124.4" style="stroke-width:1.9;fill:#fff"/>
<path d="M234.6 1102.9L242.4 1098.6" style="stroke-width:1.52"/>
<path d="M240.4 1113.5L248.3 1109.2" style="stroke-width:1.52"/>
<ellipse cx="230.8" cy="1111.9" rx="15.5" ry="8.5" transform="rotate(61.2 230.8 1111.9)" style="stroke-width:1.9;fill:#fff"/>
<ellipse cx="227.3" cy="1113.8" rx="15.5" ry="8.5" transform="rotate(61.2 227.3 1113.8)" style="stroke-width:1.9;fill:#fff"/>
<path d="M245.8 1103.6l5.3 -2.9" style="stroke-width:1.3"/>
<path d="M185.2 1128.2 L223.6 1107 A7.7 4.2 61.2 0 1 231.1 1120.5 L192.6 1141.7 A7.7 4.2 61.2 0 1 185.2 1128.2Z" style="fill:#fff;stroke:none"/>
<path d="M185.2 1128.2L223.6 1107 M192.6 1141.7L231.1 1120.5" style="stroke-width:1.9"/>
<path d="M223.6 1107 A7.7 4.2 61.2 0 1 231.1 1120.5" style="stroke-width:1.71"/>
<path d="M192.6 1141.7 A7.7 4.2 61.2 0 1 185.2 1128.2" style="stroke-width:1.9"/>
<path d="M189.9 1125.6 A7.7 3 61.2 0 1 197.4 1139.1" style="stroke-width:1.71"/>
<path d="M194.7 1122.9 A7.7 3 61.2 0 1 202.1 1136.4" style="stroke-width:1.71"/>
<path d="M199.5 1120.3 A7.7 3 61.2 0 1 206.9 1133.8" style="stroke-width:1.71"/>
<path d="M204.3 1117.7 A7.7 3 61.2 0 1 211.7 1131.2" style="stroke-width:1.71"/>
<path d="M209 1115.1 A7.7 3 61.2 0 1 216.4 1128.6" style="stroke-width:1.71"/>
<path d="M822.8 990.4 A15.5 8.5 59.7 0 1 838.5 1017.1" style="stroke-width:1.9"/>
<path d="M823.4 991.5 L831.2 986.9 L835.8 986.5 L841.9 990.2 L845.6 995 L848 1000.6 L848.2 1007.8 L845.6 1011.5 L837.9 1016.1" style="stroke-width:1.9;fill:#fff"/>
<path d="M834.1 994.7L841.9 990.2" style="stroke-width:1.52"/>
<path d="M840.2 1005.1L848 1000.6" style="stroke-width:1.52"/>
<ellipse cx="830.6" cy="1003.8" rx="15.5" ry="8.5" transform="rotate(59.7 830.6 1003.8)" style="stroke-width:1.9;fill:#fff"/>
<ellipse cx="827.2" cy="1005.8" rx="15.5" ry="8.5" transform="rotate(59.7 827.2 1005.8)" style="stroke-width:1.9;fill:#fff"/>
<path d="M845.4 995.1l5.2 -3" style="stroke-width:1.3"/>
<path d="M779.2 1024.3 L823 998.6 A8.3 4.6 59.7 0 1 831.4 1012.9 L787.6 1038.6 A8.3 4.6 59.7 0 1 779.2 1024.3Z" style="fill:#fff;stroke:none"/>
<path d="M779.2 1024.3L823 998.6 M787.6 1038.6L831.4 1012.9" style="stroke-width:1.9"/>
<path d="M823 998.6 A8.3 4.6 59.7 0 1 831.4 1012.9" style="stroke-width:1.71"/>
<path d="M787.6 1038.6 A8.3 4.6 59.7 0 1 779.2 1024.3" style="stroke-width:1.9"/>
<path d="M784.3 1021.3 A8.3 3.2 59.7 0 1 792.7 1035.6" style="stroke-width:1.71"/>
<path d="M789.4 1018.3 A8.3 3.2 59.7 0 1 797.8 1032.6" style="stroke-width:1.71"/>
<path d="M794.5 1015.3 A8.3 3.2 59.7 0 1 802.8 1029.7" style="stroke-width:1.71"/>
<path d="M799.5 1012.4 A8.3 3.2 59.7 0 1 807.9 1026.7" style="stroke-width:1.71"/>
<path d="M804.6 1009.4 A8.3 3.2 59.7 0 1 813 1023.7" style="stroke-width:1.71"/>
<path d="M906.5 1224.6 A15 8.5 59 0 1 921.9 1250.3" style="stroke-width:1.9"/>
<path d="M907.1 1225.6 L914.8 1221 L919.4 1220.4 L925.4 1223.9 L929.1 1228.5 L931.4 1233.9 L931.7 1240.9 L929 1244.7 L921.3 1249.3" style="stroke-width:1.9;fill:#fff"/>
<path d="M917.7 1228.6L925.4 1223.9" style="stroke-width:1.52"/>
<path d="M923.7 1238.6L931.4 1233.9" style="stroke-width:1.52"/>
<ellipse cx="914.2" cy="1237.5" rx="15" ry="8.5" transform="rotate(59 914.2 1237.5)" style="stroke-width:1.9;fill:#fff"/>
<ellipse cx="910.8" cy="1239.5" rx="15" ry="8.5" transform="rotate(59 910.8 1239.5)" style="stroke-width:1.9;fill:#fff"/>
<path d="M931.4 1233l5.1 -3.1" style="stroke-width:1.3"/>
<path d="M869.4 1255.3 L906.8 1232.8 A7.8 4.3 59 0 1 914.8 1246.2 L877.4 1268.6 A7.8 4.3 59 0 1 869.4 1255.3Z" style="fill:#fff;stroke:none"/>
<path d="M869.4 1255.3L906.8 1232.8 M877.4 1268.6L914.8 1246.2" style="stroke-width:1.9"/>
<path d="M906.8 1232.8 A7.8 4.3 59 0 1 914.8 1246.2" style="stroke-width:1.71"/>
<path d="M877.4 1268.6 A7.8 4.3 59 0 1 869.4 1255.3" style="stroke-width:1.9"/>
<path d="M873.7 1252.7 A7.8 3 59 0 1 881.7 1266.1" style="stroke-width:1.71"/>
<path d="M877.9 1250.1 A7.8 3 59 0 1 886 1263.5" style="stroke-width:1.71"/>
<path d="M882.2 1247.6 A7.8 3 59 0 1 890.2 1260.9" style="stroke-width:1.71"/>
<path d="M886.5 1245 A7.8 3 59 0 1 894.5 1258.4" style="stroke-width:1.71"/>
<path d="M890.8 1242.4 A7.8 3 59 0 1 898.8 1255.8" style="stroke-width:1.71"/>
<path d="M895 1239.9 A7.8 3 59 0 1 903.1 1253.3" style="stroke-width:1.71"/>
<path d="M899.3 1237.3 A7.8 3 59 0 1 907.3 1250.7" style="stroke-width:1.71"/>
<path d="M682.9 857.4 A18 9.5 60.4 0 1 700.7 888.7" style="stroke-width:1.9"/>
<path d="M683.6 858.6 L692.3 853.7 L697.5 853.3 L704.4 857.8 L708.6 863.5 L711.3 870 L711.6 878.3 L708.7 882.5 L700 887.4" style="stroke-width:1.9;fill:#fff"/>
<path d="M695.7 862.8L704.4 857.8" style="stroke-width:1.52"/>
<path d="M702.6 875L711.3 870" style="stroke-width:1.52"/>
<ellipse cx="691.8" cy="873" rx="18" ry="9.5" transform="rotate(60.4 691.8 873)" style="stroke-width:1.9;fill:#fff"/>
<ellipse cx="687.9" cy="875.2" rx="18" ry="9.5" transform="rotate(60.4 687.9 875.2)" style="stroke-width:1.9;fill:#fff"/>
<path d="M631.1 895.9 L682.9 866.5 A10 5.5 60.4 0 1 692.8 883.9 L641 913.3 A10 5.5 60.4 0 1 631.1 895.9Z" style="fill:#fff;stroke:none"/>
<path d="M631.1 895.9L682.9 866.5 M641 913.3L692.8 883.9" style="stroke-width:1.9"/>
<path d="M682.9 866.5 A10 5.5 60.4 0 1 692.8 883.9" style="stroke-width:1.71"/>
<ellipse cx="636.1" cy="904.6" rx="10" ry="5.5" transform="rotate(60.4 636.1 904.6)" style="stroke-width:1.9"/>
<path d="M637.4 892.4 A10 3.8 60.4 0 1 647.2 909.8" style="stroke-width:1.71"/>
<path d="M643.6 888.9 A10 3.8 60.4 0 1 653.4 906.3" style="stroke-width:1.71"/>
<path d="M649.8 885.3 A10 3.8 60.4 0 1 659.7 902.7" style="stroke-width:1.71"/>
<path d="M656 881.8 A10 3.8 60.4 0 1 665.9 899.2" style="stroke-width:1.71"/>
<path d="M662.2 878.3 A10 3.8 60.4 0 1 672.1 895.7" style="stroke-width:1.71"/>
<path d="M1351 787.8 A16.5 9.5 64.2 0 1 1365.4 817.5" style="stroke-width:1.9"/>
<path d="M1351.6 789 L1359.7 785.1 L1364.8 784.9 L1371.1 789.3 L1374.7 794.7 L1376.7 800.9 L1376.2 808.6 L1372.9 812.4 L1364.8 816.4" style="stroke-width:1.9;fill:#fff"/>
<path d="M1363 793.2L1371.1 789.3" style="stroke-width:1.52"/>
<path d="M1368.6 804.8L1376.7 800.9" style="stroke-width:1.52"/>
<ellipse cx="1358.2" cy="802.7" rx="16.5" ry="9.5" transform="rotate(64.2 1358.2 802.7)" style="stroke-width:1.9;fill:#fff"/>
<ellipse cx="1353.7" cy="804.9" rx="16.5" ry="9.5" transform="rotate(64.2 1353.7 804.9)" style="stroke-width:1.9;fill:#fff"/>
<path d="M1303.7 819.9 L1350.1 797.5 A8.2 4.5 64.2 0 1 1357.3 812.2 L1310.8 834.7 A8.2 4.5 64.2 0 1 1303.7 819.9Z" style="fill:#fff;stroke:none"/>
<path d="M1303.7 819.9L1350.1 797.5 M1310.8 834.7L1357.3 812.2" style="stroke-width:1.9"/>
<path d="M1350.1 797.5 A8.2 4.5 64.2 0 1 1357.3 812.2" style="stroke-width:1.71"/>
<ellipse cx="1307.2" cy="827.3" rx="8.2" ry="4.5" transform="rotate(64.2 1307.2 827.3)" style="stroke-width:1.9"/>
<path d="M1307.5 818.1 A8.2 3.2 64.2 0 1 1314.6 832.8" style="stroke-width:1.71"/>
<path d="M1311.3 816.2 A8.2 3.2 64.2 0 1 1318.5 831" style="stroke-width:1.71"/>
<path d="M1315.2 814.4 A8.2 3.2 64.2 0 1 1322.3 829.1" style="stroke-width:1.71"/>
<path d="M1319 812.5 A8.2 3.2 64.2 0 1 1326.1 827.3" style="stroke-width:1.71"/>
<path d="M1322.8 810.7 A8.2 3.2 64.2 0 1 1330 825.4" style="stroke-width:1.71"/>
<path d="M1326.7 808.8 A8.2 3.2 64.2 0 1 1333.8 823.6" style="stroke-width:1.71"/>
<path d="M1330.5 807 A8.2 3.2 64.2 0 1 1337.6 821.7" style="stroke-width:1.71"/>
<path d="M1334.3 805.1 A8.2 3.2 64.2 0 1 1341.5 819.9" style="stroke-width:1.71"/>
<ellipse cx="164.7" cy="1149" rx="17" ry="12" transform="rotate(65 164.7 1149)" style="stroke-width:1.8;fill:#fff"/>
<ellipse cx="162.5" cy="1150.1" rx="17" ry="12" transform="rotate(65 162.5 1150.1)" style="stroke-width:1.8;fill:#fff"/>
<ellipse cx="163" cy="1150.1" rx="9.4" ry="6.6" transform="rotate(65 163 1150.1)" style="stroke-width:1.8"/>
<ellipse cx="163" cy="1150.1" rx="5.1" ry="4.1" transform="rotate(65 163 1150.1)" style="stroke-width:2.2;fill:#222"/>
<ellipse cx="758.4" cy="1045.3" rx="17" ry="12" transform="rotate(65 758.4 1045.3)" style="stroke-width:1.8;fill:#fff"/>
<ellipse cx="756.2" cy="1046.4" rx="17" ry="12" transform="rotate(65 756.2 1046.4)" style="stroke-width:1.8;fill:#fff"/>
<ellipse cx="756.7" cy="1046.4" rx="9.4" ry="6.6" transform="rotate(65 756.7 1046.4)" style="stroke-width:1.8"/>
<ellipse cx="756.7" cy="1046.4" rx="5.1" ry="4.1" transform="rotate(65 756.7 1046.4)" style="stroke-width:2.2;fill:#222"/>
<ellipse cx="849.4" cy="1275.3" rx="17" ry="12.5" transform="rotate(65 849.4 1275.3)" style="stroke-width:1.8;fill:#fff"/>
<ellipse cx="847.2" cy="1276.4" rx="17" ry="12.5" transform="rotate(65 847.2 1276.4)" style="stroke-width:1.8;fill:#fff"/>
<ellipse cx="847.7" cy="1276.4" rx="9.4" ry="6.9" transform="rotate(65 847.7 1276.4)" style="stroke-width:1.8"/>
<ellipse cx="847.7" cy="1276.4" rx="5.1" ry="4.2" transform="rotate(65 847.7 1276.4)" style="stroke-width:2.2;fill:#222"/>
<ellipse cx="608.4" cy="920.6" rx="19.5" ry="13.2" transform="rotate(65 608.4 920.6)" style="stroke-width:1.8;fill:#fff"/>
<ellipse cx="606.2" cy="921.7" rx="19.5" ry="13.2" transform="rotate(65 606.2 921.7)" style="stroke-width:1.8;fill:#fff"/>
<ellipse cx="606.7" cy="921.7" rx="10.7" ry="7.3" transform="rotate(65 606.7 921.7)" style="stroke-width:1.8"/>
<ellipse cx="607" cy="921.7" rx="5.8" ry="4" transform="rotate(65 607 921.7)" style="stroke-width:1.6"/>
<path d="M212.2 910.5 C215.8 908.1 218.3 906.5 220.8 905.7 C223.3 904.9 225.2 904.9 227.2 905.7 C229.2 906.5 231.6 908.6 232.5 910.5 C233.5 912.4 233.4 914.6 233.1 916.9 C232.7 919.2 231.6 922.1 230.4 924.4 C229.2 926.7 227.4 928.1 226.1 930.8 C224.9 933.5 224.9 937 222.9 940.4 C221 943.8 219.2 947 214.4 951.1 C209.6 955.2 199.6 961.5 194.1 965 C188.6 968.4 184.7 970.8 181.3 971.9 C177.9 973.1 175.7 972.9 173.8 971.9 C171.9 970.9 170.5 968.4 170.1 966 C169.6 963.6 170.1 960.9 171.1 957.5 C172.1 954.1 173.3 950 175.9 945.7 C178.5 941.5 182.7 936.1 186.6 931.9 C190.5 927.6 195.2 923.7 199.4 920.1 C203.7 916.5 208.7 912.9 212.2 910.5Z" style="stroke-width:1.9;fill:#fff"/>
<path d="M174.9 966 C175 963.9 174.1 957.8 175.9 953.2 C177.7 948.6 181.4 943.1 185.5 938.3 C189.6 933.5 195.5 928.5 200.5 924.4 C205.5 920.3 211.5 916.2 215.4 913.7 C219.4 911.2 221.7 909.9 224 909.4 C226.3 909 228.4 910.8 229.3 911" style="stroke-width:1.5"/>
<ellipse cx="219.2" cy="920.6" rx="5.9" ry="3" transform="rotate(-38 219.2 920.6)" style="stroke-width:1.7"/>
<ellipse cx="186.6" cy="959.6" rx="5.9" ry="3" transform="rotate(-38 186.6 959.6)" style="stroke-width:1.7"/>
<path d="M242.1 948.9 C246.2 946.7 246.4 945 248.6 944.1 C250.7 943.2 253.2 943 255 943.6 C256.7 944.2 258.5 945.9 259.2 947.9 C260 949.8 260 952.5 259.2 955.4 C258.5 958.2 256.9 961.6 255 965 C253 968.3 250.9 971.7 247.5 975.6 C244.1 979.6 239.1 984.4 234.7 988.5 C230.2 992.6 224.7 997 220.8 1000.2 C216.9 1003.4 214 1006.2 211.2 1007.7 C208.3 1009.2 205.6 1009.6 203.7 1009.3 C201.8 1008.9 200.5 1007.4 200 1005.6 C199.4 1003.7 199.7 1002 200.5 998.1 C201.3 994.2 202.8 987 204.8 982.1 C206.7 977.1 209 972.3 212.2 968.2 C215.4 964.1 219 960.7 224 957.5 C229 954.3 238.1 951.2 242.1 948.9Z" style="stroke-width:2.0;fill:#fff"/>
<path d="M203.7 989.5 C204.9 986.3 207.8 975.5 211.2 970.3 C214.6 965.1 218.8 961.9 224 958.6 C229.2 955.2 239.1 951.4 242.1 950" style="stroke-width:2.2"/>
<ellipse cx="247.5" cy="955.9" rx="4.8" ry="2.3" transform="rotate(-38 247.5 955.9)" style="stroke-width:3"/>
<ellipse cx="214.4" cy="996.5" rx="4.8" ry="2.3" transform="rotate(-38 214.4 996.5)" style="stroke-width:3"/>
<path d="M224 924.4 L226.7 927.8" style="stroke-width:1.5"/>
<path d="M251.8 956.4 L258.2 965" style="stroke-width:1.5"/>
<path d="M161 872 C161.9 868.5 165.8 860.8 168.5 858.2 C171.1 855.5 174.5 856.6 177 856 C179.5 855.5 181.3 854.6 183.4 855 C185.5 855.3 187.7 856.2 189.8 858.2 C191.9 860.1 195.5 864.4 196.2 866.7 C196.9 869 195.9 870.6 194.1 872 C192.3 873.5 187.9 873.5 185.5 875.2 C183.2 877 181.6 880.6 180.2 882.7 C178.8 884.9 178.6 887.4 177 888.1 C175.4 888.8 172.9 888.4 170.6 887 C168.3 885.6 164.7 882 163.1 879.5 C161.5 877 160.1 875.6 161 872Z" style="stroke-width:2.4;fill:#fff"/>
<path d="M168.5 858.2 L172.7 867.8 L165.2 875.2" style="stroke-width:2.0"/>
<path d="M172.7 867.8 L180.2 866.7 L185.5 875.2" style="stroke-width:2.0"/>
<path d="M180.2 866.7 L183.4 855" style="stroke-width:2.0"/>
<path d="M165.2 875.2 L171.1 884.9" style="stroke-width:1.8"/>
<path d="M189.8 858.2 L187.7 866.2" style="stroke-width:1.8"/>
<path d="M167.9 855.5 L171.1 859.8" style="stroke-width:1.6"/>
<ellipse cx="179.3" cy="870.1" rx="3.2" ry="2.8" transform="rotate(0 179.3 870.1)" style="stroke-width:2;fill:#222"/>
<path d="M180.2 882.7 L193 899.8" style="stroke-width:2.0"/>
<path d="M194.1 871 L207.4 890.2" style="stroke-width:2.0"/>
<path d="M193 899.8 C193.4 900.3 194.1 902.1 195.2 902.5 C196.2 902.9 197.8 902.9 199.4 902.2 C201 901.5 203.4 899.7 204.8 898.2 C206.1 896.8 207 894.7 207.4 893.4 C207.9 892.1 207.4 890.7 207.4 890.2" style="stroke-width:2.0"/>
<path d="M183.4 885.9 C184.7 885.4 189 884.4 191.4 882.7 C193.8 881 196.8 876.9 197.8 875.8" style="stroke-width:1.9"/>
<path d="M185.8 889.1 C187.1 888.6 191.4 887.6 193.8 885.9 C196.2 884.2 199.1 880.1 200.2 879" style="stroke-width:1.9"/>
<path d="M188.1 892.3 C189.4 891.8 193.7 890.8 196.1 889.1 C198.5 887.4 201.5 883.3 202.5 882.2" style="stroke-width:1.9"/>
<path d="M190.5 895.5 C191.8 895 196.1 894 198.5 892.3 C200.9 890.6 203.8 886.6 204.9 885.4" style="stroke-width:1.9"/>
<path d="M192.8 898.7 C194.1 898.2 198.4 897.2 200.8 895.5 C203.2 893.8 206.2 889.8 207.2 888.6" style="stroke-width:1.9"/>
</g>
<g>
<text x="59.6" y="886.8" font-size="28" text-anchor="start">70</text>
<text x="59.6" y="955" font-size="28" text-anchor="start">50</text>
<text x="59.6" y="1015" font-size="28" text-anchor="start">60</text>
<text x="160.4" y="1078.7" font-size="28" text-anchor="start">80</text>
<text x="88.3" y="1106.8" font-size="28" text-anchor="start">90</text>
<text x="559.2" y="839.4" font-size="28" text-anchor="start">110</text>
<text x="624.9" y="803" font-size="28" text-anchor="start">100</text>
<text x="697.9" y="977.4" font-size="28" text-anchor="start">90</text>
<text x="759.8" y="940.4" font-size="28" text-anchor="start">80</text>
<text x="1375.9" y="879" font-size="28" text-anchor="start">30</text>
<text x="1182.9" y="1224" font-size="28" text-anchor="start">20</text>
<text x="1294.9" y="1224" font-size="28" text-anchor="start">10</text>
<text x="865.9" y="1350" font-size="28" text-anchor="start">90</text>
<text x="937.8" y="1323.6" font-size="28" text-anchor="start">80</text>
<text x="736.5" y="1565.7" font-size="28" text-anchor="start">40</text>
<text x="1340.3" y="2176.6" font-size="22" text-anchor="start">SAL000222</text>
</g>
</svg>
</body></html>
